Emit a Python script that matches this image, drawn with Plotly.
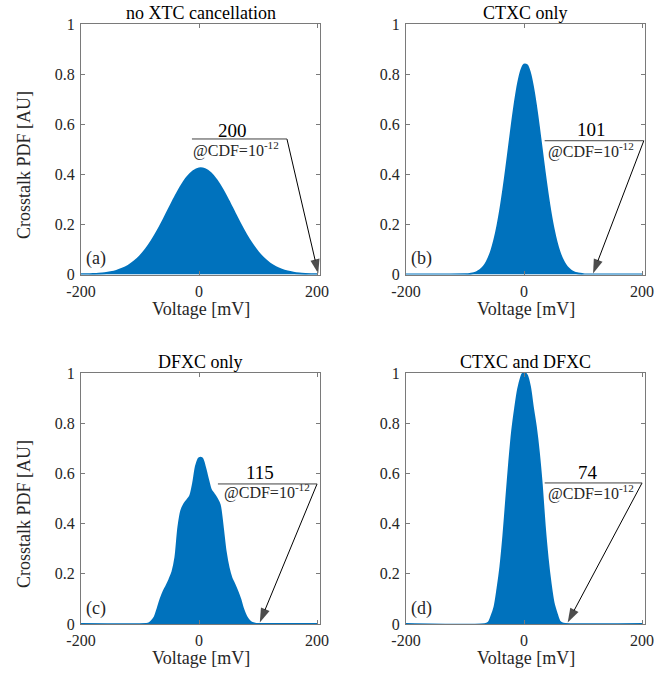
import plotly.graph_objects as go

# ---------------- data ----------------
# (a) no XTC cancellation
volt_a = [-200, -190, -180, -170, -160, -150, -140, -130, -120, -110, -100, -90, -80, -70, -60,
          -50, -40, -30, -20, -10, 0, 10, 20, 30, 40, 50, 60, 70, 80, 90, 100, 110, 120, 130,
          140, 150, 160, 170, 180, 190, 200]
pdf_a = [0.0005, 0.0009, 0.0017, 0.0030, 0.0052, 0.0089, 0.0144, 0.0228, 0.0348, 0.0514, 0.0734,
         0.1015, 0.1358, 0.1757, 0.2200, 0.2665, 0.3123, 0.3542, 0.3885, 0.4123, 0.4234, 0.4206,
         0.4042, 0.3759, 0.3381, 0.2943, 0.2478, 0.2019, 0.1591, 0.1213, 0.0895, 0.0639, 0.0441,
         0.0295, 0.0191, 0.0119, 0.0072, 0.0042, 0.0024, 0.0013, 0.0007]

# (b) CTXC only
volt_b = [-200, -100, -95, -90, -85, -80, -75, -70, -65, -60, -55, -50, -45, -40, -35, -30, -25,
          -20, -15, -10, -5, 0, 5, 10, 15, 20, 25, 30, 35, 40, 45, 50, 55, 60, 65, 70, 75, 80,
          85, 90, 95, 100, 105, 200]
pdf_b = [0.0, 0.0007, 0.0015, 0.0030, 0.0056, 0.0098, 0.0166, 0.0272, 0.0431, 0.0661, 0.0980,
         0.1405, 0.1949, 0.2616, 0.3397, 0.4267, 0.5187, 0.6099, 0.6939, 0.7637, 0.8132, 0.8378,
         0.8350, 0.8052, 0.7511, 0.6780, 0.5920, 0.5001, 0.4087, 0.3232, 0.2473, 0.1830, 0.1310,
         0.0908, 0.0608, 0.0395, 0.0248, 0.0150, 0.0088, 0.0050, 0.0028, 0.0010, 0.0, 0.0]

# (c) DFXC only
volt_c = [-200, -90, -85, -80, -75, -70, -65, -60, -55, -50, -45, -40, -35, -30, -25, -20, -15,
          -10, -5, 0, 5, 10, 15, 20, 25, 30, 35, 40, 45, 50, 55, 60, 65, 70, 75, 80, 85, 90, 95,
          100, 200]
pdf_c = [0.0, 0.0, 0.002, 0.012, 0.028, 0.063, 0.100, 0.130, 0.153, 0.178, 0.208, 0.265, 0.385,
         0.452, 0.478, 0.494, 0.510, 0.560, 0.630, 0.660, 0.660, 0.625, 0.578, 0.535, 0.518,
         0.500, 0.475, 0.390, 0.290, 0.225, 0.183, 0.158, 0.130, 0.098, 0.058, 0.030, 0.013,
         0.004, 0.001, 0.0, 0.0]

# (d) CTXC and DFXC
volt_d = [-200, -65, -60, -55, -50, -45, -40, -35, -30, -25, -20, -15, -10, -5, -2.5, 0, 2.5, 5,
          10, 15, 20, 25, 30, 35, 40, 45, 50, 55, 60, 65, 70, 200]
pdf_d = [0.0, 0.0, 0.006, 0.032, 0.068, 0.140, 0.228, 0.350, 0.500, 0.645, 0.770, 0.860, 0.935,
         0.982, 0.996, 1.000, 0.998, 0.990, 0.945, 0.862, 0.785, 0.685, 0.555, 0.392, 0.262,
         0.162, 0.085, 0.044, 0.011, 0.002, 0.0, 0.0]

titles = ["no XTC cancellation", "CTXC only", "DFXC only", "CTXC and DFXC"]
tags = ["(a)", "(b)", "(c)", "(d)"]
xtc_values = ["200", "101", "115", "74"]
cdf_label = "@CDF=10<sup>-12</sup>"
x_ticks = [-200, 0, 200]
x_ticktext = ["-200", "0", "200"]
y_ticks = [0, 0.2, 0.4, 0.6, 0.8, 1]
y_ticktext = ["0", "0.2", "0.4", "0.6", "0.8", "1"]

volts = [volt_a, volt_b, volt_c, volt_d]
pdfs = [pdf_a, pdf_b, pdf_c, pdf_d]

# ---------------- layout / style config ----------------
W, H = 670, 675
BLUE = "#0072BD"
FONT = "Liberation Serif, Times New Roman, serif"
TXT = "#262626"
AXC = "#7a7a7a"

col_px = [(81, 320), (406, 645)]
row_px = [(24, 274.5), (373, 624)]
# callout geometry per panel (data coordinates)
arrow_tip = [(202, 0.004), (117, 0.004), (103, 0.006), (74, 0.006)]
bar_y = [0.541, 0.534, 0.558, 0.562]
bar_x = [(-12, 149), (35, 203), (32, 200), (35, 200)]
val_pos = [(57, 0.575), (115, 0.578), (103, 0.602), (108, 0.602)]
cdf_pos = [(62, 0.500), (113, 0.497), (115, 0.526), (113, 0.522)]

fig = go.Figure()
layout = dict(width=W, height=H,
              margin=dict(l=0, r=0, t=0, b=0, pad=0, autoexpand=False),
              paper_bgcolor="white", plot_bgcolor="white", showlegend=False,
              font=dict(family=FONT, color=TXT))
annotations = []
shapes = []

for i in range(4):
    r, c = divmod(i, 2)
    xs = "" if i == 0 else str(i + 1)
    x0p, x1p = col_px[c]
    y0p, y1p = row_px[r]
    xdom = [x0p / W, x1p / W]
    ydom = [1 - y1p / H, 1 - y0p / H]

    fig.add_trace(go.Scatter(x=volts[i], y=pdfs[i], mode="lines",
                             line=dict(color=BLUE, width=2, shape="spline", smoothing=0.8),
                             fill="tozeroy", fillcolor=BLUE,
                             xaxis="x" + xs, yaxis="y" + xs, hoverinfo="skip"))

    # callout arrow: from right end of the fraction bar down to the target
    fig.add_trace(go.Scatter(x=[bar_x[i][1], arrow_tip[i][0]],
                             y=[bar_y[i], arrow_tip[i][1]],
                             mode="lines+markers",
                             line=dict(color="black", width=1),
                             marker=dict(symbol="arrow", size=[0, 15], color="black",
                                         angleref="previous", standoff=0,
                                         line=dict(width=0)),
                             xaxis="x" + xs, yaxis="y" + xs, hoverinfo="skip"))

    axcommon = dict(showline=True, linecolor=AXC, linewidth=1, mirror="allticks",
                    ticks="inside", ticklen=4, tickcolor=AXC, tickwidth=1,
                    showgrid=False, zeroline=False, automargin=False,
                    tickfont=dict(family=FONT, size=16, color=TXT))
    layout["xaxis" + xs] = dict(domain=xdom, range=[-200, 205], anchor="y" + xs,
                                tickvals=x_ticks, ticktext=x_ticktext,
                                ticklabelstandoff=2, **axcommon)
    layout["yaxis" + xs] = dict(domain=ydom, range=[0, 1], anchor="x" + xs,
                                tickvals=y_ticks, ticktext=y_ticktext,
                                ticklabelstandoff=2, **axcommon)

    cx = (x0p + x1p) / 2 / W
    # title
    annotations.append(dict(text=titles[i], xref="paper", yref="paper", x=cx,
                            y=1 - (y0p - 11) / H, xanchor="center", yanchor="middle",
                            showarrow=False, font=dict(size=18, family=FONT, color="black")))
    # x title
    annotations.append(dict(text="Voltage [mV]", xref="paper", yref="paper", x=cx,
                            y=1 - (y1p + 34) / H, xanchor="center", yanchor="middle",
                            showarrow=False, font=dict(size=18, family=FONT, color=TXT)))
    # y title (left column only)
    if c == 0:
        annotations.append(dict(text="Crosstalk PDF [AU]", xref="paper", yref="paper",
                                x=24 / W, y=1 - (y0p + 141) / H, textangle=-90,
                                xanchor="center", yanchor="middle", showarrow=False,
                                font=dict(size=18, family=FONT, color=TXT)))
    # panel tag
    annotations.append(dict(text=tags[i], xref="paper", yref="paper",
                            x=(x0p + 3) / W, y=1 - (y1p - 16) / H,
                            xanchor="left", yanchor="middle", showarrow=False,
                            font=dict(size=18, family=FONT, color=TXT)))
    # callout: value, CDF label and fraction bar
    annotations.append(dict(text=xtc_values[i], xref="x" + xs, yref="y" + xs,
                            x=val_pos[i][0], y=val_pos[i][1], xanchor="center",
                            yanchor="middle", showarrow=False,
                            font=dict(size=19, family=FONT, color="black")))
    annotations.append(dict(text=cdf_label, xref="x" + xs, yref="y" + xs,
                            x=cdf_pos[i][0], y=cdf_pos[i][1], xanchor="center",
                            yanchor="middle", showarrow=False,
                            font=dict(size=16, family=FONT, color=TXT)))
    shapes.append(dict(type="line", xref="x" + xs, yref="y" + xs,
                       x0=bar_x[i][0], x1=bar_x[i][1], y0=bar_y[i], y1=bar_y[i],
                       line=dict(color="#404040", width=1)))

layout["annotations"] = annotations
layout["shapes"] = shapes
fig.update_layout(**layout)
fig.write_html("out.html")
